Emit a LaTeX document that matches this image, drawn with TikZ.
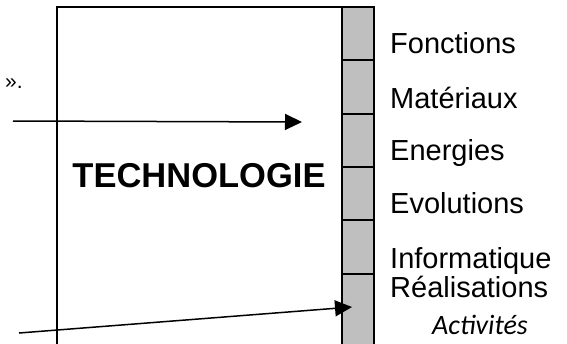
\documentclass[tikz,border=0pt]{standalone}
\usepackage{fontspec}
\setmainfont{Liberation Sans}
\newfontfamily\calib{Carlito}
\usetikzlibrary{arrows.meta}
\tikzset{
  frame/.style={line width=2pt},
  cellbox/.style={draw, line width=2.4pt, fill=gray!50!white},
  lbl/.style={anchor=base west, inner sep=0pt, font=\fontsize{29}{33}\selectfont},
  arr/.style={line width=1.5pt, -{Triangle[length=17pt,width=16pt]}}
}
\begin{document}
\begin{tikzpicture}[x=1pt,y=-1pt]
\useasboundingbox (0,0) rectangle (567,343);
% main frame
\coordinate (fbl) at (57,345);
\coordinate (ftl) at (57,7);
\coordinate (ftr) at (342,7);
\draw[frame] (fbl) -- (ftl) -- (ftr);
% gray column cells
\foreach \t/\b in {7/60,60/114,114/167,167/220,220/274,274/346}{
  \draw[cellbox] (342,\t) rectangle (374,\b);
}
\node[anchor=base, inner sep=0pt, font=\fontsize{34.5}{40}\selectfont\bfseries] (tech) at (199,187) {TECHNOLOGIE};
\node[anchor=base west, inner sep=0pt, font=\fontsize{21}{24}\selectfont] (quote) at (5,88) {».};
% labels
\node[lbl] (l1) at (390,53) {Fonctions};
\node[lbl] (l2) at (390,108) {Matériaux};
\node[lbl] (l3) at (390,160) {Energies};
\node[lbl] (l4) at (390,213) {Evolutions};
\node[lbl] (l5) at (390,268) {Informatique};
\node[lbl] (l6) at (390,297) {Réalisations};
\node[anchor=base, inner sep=0pt, font=\calib\itshape\fontsize{28}{32}\selectfont] (l7) at (480,334) {Activités};
% arrows
\coordinate (a1s) at (13,121);
\coordinate (a1e) at (302,122);
\coordinate (a2s) at (19,333);
\coordinate (a2e) at (352,307);
\draw[arr] (a1s) -- (a1e);
\draw[arr] (a2s) -- (a2e);
\end{tikzpicture}
\end{document}
